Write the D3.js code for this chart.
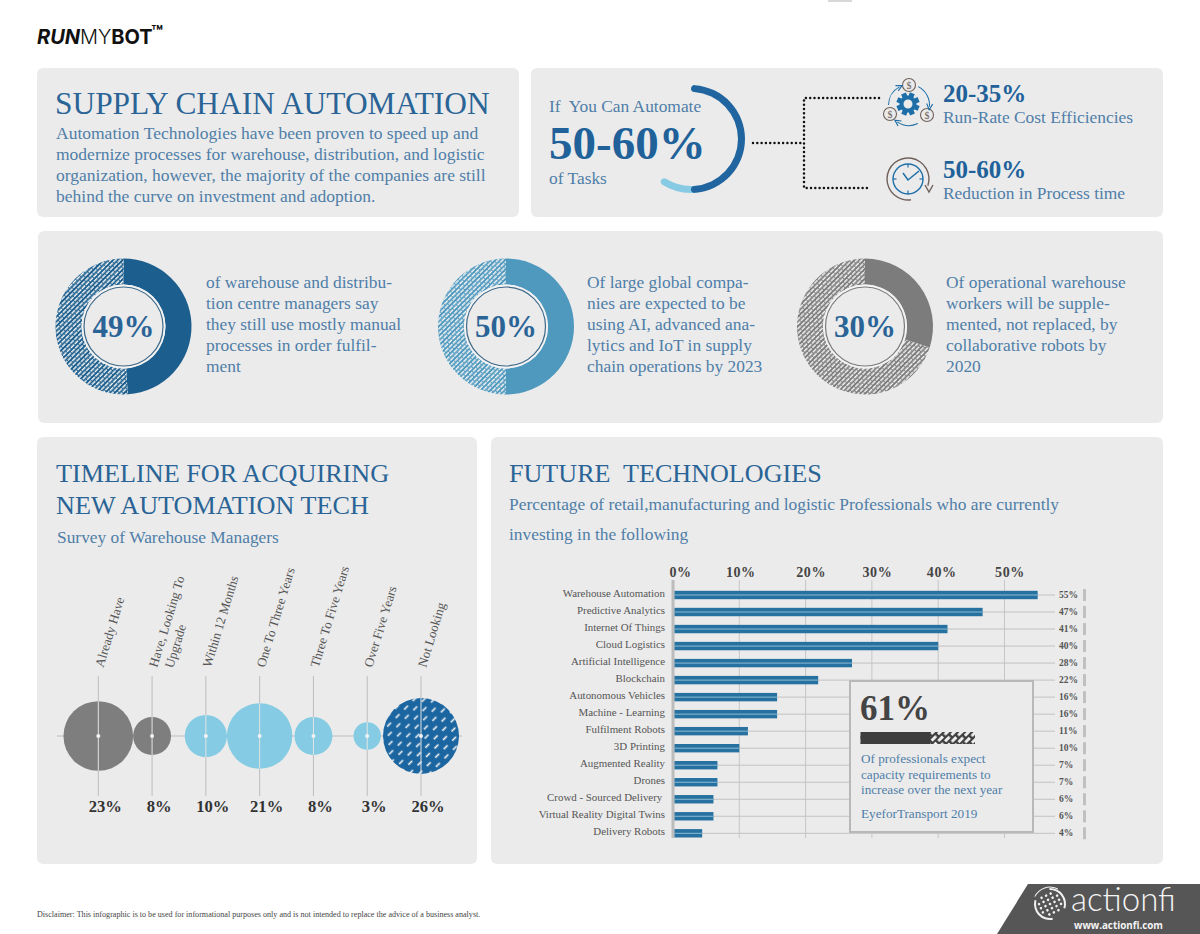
<!DOCTYPE html>
<html>
<head>
<meta charset="utf-8">
<script src="https://cdn.jsdelivr.net/npm/d3@7"></script>
<style>
body { margin: 0; background: #fff; }
text { font-family: "Liberation Serif", serif; white-space: pre; }
</style>
</head>
<body>
<svg id="chart" width="1200" height="934"></svg>
<script>
// data
const bubbleLabels = [['Already Have'], ['Have, Looking To', 'Upgrade'], ['Within 12 Months'], ['One To Three Years'], ['Three To Five Years'], ['Over Five Years'], ['Not Looking']];
const bubbleValues = [23, 8, 10, 21, 8, 3, 26];
const bubbleKinds = ['grey', 'grey', 'light', 'light', 'light', 'light', 'hatch'];

const techNames = ['Warehouse Automation', 'Predictive Analytics', 'Internet Of Things', 'Cloud Logistics', 'Artificial Intelligence', 'Blockchain', 'Autonomous Vehicles', 'Machine - Learning', 'Fulfilment Robots', '3D Printing', 'Augmented Reality', 'Drones', 'Crowd - Sourced Delivery ', 'Virtual Reality Digital Twins', 'Delivery Robots'];
const techBars = [55, 46.7, 41.4, 40, 27, 21.9, 15.7, 15.7, 11.3, 10, 6.7, 6.7, 6.1, 6.1, 4.4];
const techLabels = ['55%', '47%', '41%', '40%', '28%', '22%', '16%', '16%', '11%', '10%', '7%', '7%', '6%', '6%', '4%'];
const techTicks = [0, 10, 20, 30, 40, 50];

const donutValues = [49, 50, 30];
const donutColors = ['#1c5f8e', '#4f99bf', '#7c7c7c'];
const donutRings = ['#3f6a8a', '#3f6a8a', '#7c7c7c'];
const donutTexts = [
    ['of warehouse and distribu-', 'tion centre managers say', 'they still use mostly manual', 'processes in order fulfil-', 'ment'],
    ['Of large global compa-', 'nies are expected to be', 'using AI, advanced ana-', 'lytics and IoT in supply', 'chain operations by 2023'],
    ['Of operational warehouse', 'workers will be supple-', 'mented, not replaced, by', 'collaborative robots by', '2020']
];

const automateRange = [50, 60];
const capacityValue = 61;

const introLines = ['Automation Technologies have been proven to speed up and', 'modernize processes for warehouse, distribution, and logistic', 'organization, however, the majority of the companies are still', 'behind the curve on investment and adoption.'];
const calloutLines = ['Of professionals expect', 'capacity requirements to', 'increase over the next year'];

const BLUE = '#2a6496';
const SOFT = '#4f7ea8';
const ICON = '#1e6ea8';
const BROWN = '#6f625c';

const svg = d3.select('#chart');
const defs = svg.append('defs');

// diagonal dashes, every other row shifted half a step
function hatch(id, base, size, gap, dash, width) {
    const p = defs.append('pattern')
        .attr('id', id)
        .attr('patternUnits', 'userSpaceOnUse')
        .attr('width', size)
        .attr('height', gap * 2)
        .attr('patternTransform', 'rotate(-45)');
    p.append('rect').attr('width', size).attr('height', gap * 2).attr('fill', base);
    p.append('line')
        .attr('x1', 0).attr('x2', dash)
        .attr('y1', gap / 2).attr('y2', gap / 2)
        .attr('stroke', '#f4f4f4')
        .attr('stroke-width', width);
    [[size / 2, size / 2 + dash], [size / 2 - size, size / 2 - size + dash]].forEach(s => {
        p.append('line')
            .attr('x1', s[0]).attr('x2', s[1])
            .attr('y1', gap * 1.5).attr('y2', gap * 1.5)
            .attr('stroke', '#f4f4f4')
            .attr('stroke-width', width);
    });
}
hatch('hatch0', donutColors[0], 5.5, 3.4, 4.7, 1.5);
hatch('hatch1', donutColors[1], 5.5, 3.4, 4.7, 1.5);
hatch('hatch2', donutColors[2], 5.5, 3.4, 4.7, 1.5);
hatch('hatchBubble', '#1b65a1', 12, 7, 5.5, 1.6);
hatch('hatchBar', '#3e3e3e', 9, 5, 6.5, 2.8);

function put(x, y, str, size, color, weight) {
    return svg.append('text')
        .attr('x', x)
        .attr('y', y)
        .attr('font-size', size)
        .attr('fill', color)
        .attr('font-weight', weight || 'normal')
        .text(str);
}

function lines(x, y, step, arr, size, color) {
    arr.forEach((l, i) => put(x, y + i * step, l, size, color));
}

// top sliver at the very edge of the picture
svg.append('rect').attr('x', 828).attr('y', 0).attr('width', 24).attr('height', 2).attr('fill', '#d8d8d8');

// panels
const panels = [[37, 68, 482, 149], [531, 68, 632, 149], [38, 231, 1125, 192], [37, 437, 440, 427], [491, 437, 672, 427]];
svg.selectAll('rect.panel')
    .data(panels)
    .enter()
    .append('rect')
    .attr('class', 'panel')
    .attr('x', d => d[0])
    .attr('y', d => d[1])
    .attr('width', d => d[2])
    .attr('height', d => d[3])
    .attr('rx', 6)
    .attr('fill', '#ebebeb');

// logo
const logo = svg.append('text').attr('x', 37).attr('y', 44).attr('font-size', 20).attr('fill', '#111').style('font-family', 'Inter, sans-serif');
logo.append('tspan').attr('font-weight', 700).attr('font-style', 'italic').text('RUN');
logo.append('tspan').attr('font-weight', 300).text('MY');
logo.append('tspan').attr('font-weight', 700).text('BOT');
put(151, 39, '™', 19, '#111', 'bold').style('font-family', 'Inter, sans-serif');

// intro panel
put(55, 114, 'SUPPLY CHAIN AUTOMATION', 31.4, BLUE);
lines(56, 139, 21, introLines, 17.5, SOFT);

// automate panel
put(549, 112, 'If  You Can Automate', 17.4, SOFT);
put(549, 159, '50-60%', 47, '#20619a', 'bold');
put(549, 184, 'of Tasks', 17.4, SOFT);

const arcCentre = svg.append('g').attr('transform', 'translate(691,139)');
const pctAngle = d3.scaleLinear().domain([0, 100]).range([0, 2 * Math.PI]);
const ringArc = d3.arc().innerRadius(47).outerRadius(54).cornerRadius(3.5);
arcCentre.append('path')
    .attr('d', ringArc({ startAngle: pctAngle(automateRange[0] - 3), endAngle: pctAngle(automateRange[1]) }))
    .attr('fill', '#86cbe3');
arcCentre.append('path')
    .attr('d', ringArc({ startAngle: pctAngle(0), endAngle: pctAngle(automateRange[0]) }))
    .attr('fill', '#20659f');

const dots = d3.line();
[[[753, 143], [804, 143]], [[879, 98], [804, 98], [804, 188], [870, 188]]].forEach(pts => {
    svg.append('path')
        .attr('d', dots(pts))
        .attr('fill', 'none')
        .attr('stroke', '#111')
        .attr('stroke-width', 2.5)
        .attr('stroke-linecap', 'round')
        .attr('stroke-dasharray', '0 4.3');
});

// gear icon
const gear = svg.append('g').attr('transform', 'translate(908,104)');
d3.range(8).forEach(i => {
    gear.append('rect')
        .attr('x', -2.6).attr('y', -11.5).attr('width', 5.2).attr('height', 6)
        .attr('fill', ICON)
        .attr('transform', `rotate(${i * 45 + 22})`);
});
gear.append('circle').attr('r', 6.5).attr('fill', 'none').attr('stroke', ICON).attr('stroke-width', 4);

[[909, 85], [890, 114], [927, 115]].forEach(c => {
    svg.append('circle').attr('cx', c[0]).attr('cy', c[1]).attr('r', 6.5).attr('fill', '#ebebeb').attr('stroke', BROWN).attr('stroke-width', 1.1);
    put(c[0], c[1] + 3.5, '$', 10, BROWN).attr('text-anchor', 'middle');
});
// curved arrows around the gear, with a head at the clockwise end
const iconArc = d3.arc().innerRadius(20).outerRadius(21);
[[0.46, 1.66], [2.7, 3.75], [4.71, 5.8]].forEach(a => {
    const g = svg.append('g').attr('transform', 'translate(909,105)');
    g.append('path').attr('d', iconArc({ startAngle: a[0], endAngle: a[1] })).attr('fill', ICON);
    g.append('path')
        .attr('d', 'M-3,-23.5L3,-20.5L-3,-17.5')
        .attr('fill', 'none')
        .attr('stroke', ICON)
        .attr('stroke-width', 1.1)
        .attr('transform', `rotate(${a[1] * 180 / Math.PI})`);
});

// clock icon
const clock = svg.append('g').attr('transform', 'translate(908,179)');
clock.append('circle').attr('r', 15).attr('fill', 'none').attr('stroke', ICON).attr('stroke-width', 1.4);
clock.append('path').attr('d', d3.arc().innerRadius(20.3).outerRadius(21.7)({ startAngle: 3.0, endAngle: 2 * Math.PI + 1.9 })).attr('fill', BROWN);
clock.append('path').attr('d', 'M17,6L21,13L25,6').attr('fill', 'none').attr('stroke', BROWN).attr('stroke-width', 1.4);
clock.append('path').attr('d', 'M-5,-6L0,1L11,-8').attr('fill', 'none').attr('stroke', ICON).attr('stroke-width', 1.5);
d3.range(4).forEach(i => {
    clock.append('line').attr('y1', -15).attr('y2', -11.5).attr('stroke', ICON).attr('stroke-width', 1.2).attr('transform', `rotate(${i * 90})`);
});

put(943, 102, '20-35%', 25, '#20619a', 'bold');
put(943, 123, 'Run-Rate Cost Efficiencies', 17.4, SOFT);
put(943, 178, '50-60%', 25, '#20619a', 'bold');
put(943, 199, 'Reduction in Process time', 17.4, SOFT);

// donuts
const donutX = [123.5, 506, 865];
const donutTextX = [206, 587, 946];
donutValues.forEach((v, i) => {
    const g = svg.append('g').attr('transform', `translate(${donutX[i]},326.5)`);
    const slices = d3.pie().sort(null)([v, 100 - v]);
    const a = d3.arc().innerRadius(42).outerRadius(68);
    g.selectAll('path')
        .data(slices)
        .enter()
        .append('path')
        .attr('d', a)
        .attr('fill', (d, j) => j === 0 ? donutColors[i] : `url(#hatch${i})`);
    g.append('circle').attr('r', 42).attr('fill', '#f3f3f3');
    g.append('circle').attr('r', 39.5).attr('fill', '#ebebeb').attr('stroke', donutRings[i]).attr('stroke-width', 1.2);
    g.append('text')
        .attr('y', 10)
        .attr('text-anchor', 'middle')
        .attr('font-size', 31)
        .attr('font-weight', 'bold')
        .attr('fill', BLUE)
        .text(v + '%');
    lines(donutTextX[i], 288, 21, donutTexts[i], 17.4, SOFT);
});

// timeline panel
put(56, 482, 'TIMELINE FOR ACQUIRING', 26.2, BLUE);
put(56, 514, 'NEW AUTOMATION TECH', 26.2, BLUE);
put(57, 543, 'Survey of Warehouse Managers', 17.4, SOFT);

const bubbleX = d3.scalePoint().domain(d3.range(bubbleValues.length)).range([98.3, 421]);
const bubbleR = d3.scaleLinear().domain([3, 26]).range([13.7, 38]);
const bubbleFill = { grey: '#7e7e7e', light: '#84cbe3', hatch: 'url(#hatchBubble)' };
const bubbleY = 736;

svg.append('line').attr('x1', 57).attr('x2', 462).attr('y1', bubbleY).attr('y2', bubbleY).attr('stroke', '#bdbdbd').attr('stroke-width', 1);
svg.selectAll('line.stem')
    .data(bubbleValues)
    .enter()
    .append('line')
    .attr('class', 'stem')
    .attr('x1', (d, i) => bubbleX(i))
    .attr('x2', (d, i) => bubbleX(i))
    .attr('y1', 676)
    .attr('y2', 796)
    .attr('stroke', '#bdbdbd')
    .attr('stroke-width', 1);
svg.selectAll('circle.bubble')
    .data(bubbleValues)
    .enter()
    .append('circle')
    .attr('class', 'bubble')
    .attr('cx', (d, i) => bubbleX(i))
    .attr('cy', bubbleY)
    .attr('r', d => bubbleR(d))
    .attr('fill', (d, i) => bubbleFill[bubbleKinds[i]]);
svg.selectAll('line.chord')
    .data(bubbleValues)
    .enter()
    .append('line')
    .attr('class', 'chord')
    .attr('x1', (d, i) => bubbleX(i))
    .attr('x2', (d, i) => bubbleX(i))
    .attr('y1', d => bubbleY - bubbleR(d))
    .attr('y2', d => bubbleY + bubbleR(d))
    .attr('stroke', '#e4e4e4')
    .attr('stroke-width', 1);
svg.selectAll('circle.pin')
    .data(bubbleValues)
    .enter()
    .append('circle')
    .attr('class', 'pin')
    .attr('cx', (d, i) => bubbleX(i))
    .attr('cy', bubbleY)
    .attr('r', 2)
    .attr('fill', '#f2f2f2');
svg.selectAll('text.pct')
    .data(bubbleValues)
    .enter()
    .append('text')
    .attr('class', 'pct')
    .attr('x', (d, i) => bubbleX(i) + 7)
    .attr('y', 812)
    .attr('text-anchor', 'middle')
    .attr('font-size', 16.6)
    .attr('font-weight', 'bold')
    .attr('fill', '#333')
    .text(d => d + '%');
bubbleLabels.forEach((label, i) => {
    const t = svg.append('text')
        .attr('transform', `translate(${bubbleX(i) + 5},668) rotate(-73)`)
        .attr('font-size', 13)
        .attr('fill', '#555');
    label.forEach((l, j) => {
        t.append('tspan').attr('x', j * 4).attr('y', j * 15.5).text(l);
    });
});

// future technologies panel
put(509, 482, 'FUTURE  TECHNOLOGIES', 26.1, BLUE);
put(509, 510, 'Percentage of retail,manufacturing and logistic Professionals who are currently', 17.4, SOFT);
put(509, 540, 'investing in the following', 17.4, SOFT);

const xTech = d3.scaleLinear().domain([0, 50]).range([673, 1004.5]);
const yTech = d3.scalePoint().domain(techNames).range([595, 833.3]);
const barH = 8.4;

svg.selectAll('line.vgrid')
    .data(techTicks)
    .enter()
    .append('line')
    .attr('class', 'vgrid')
    .attr('x1', d => xTech(d))
    .attr('x2', d => xTech(d))
    .attr('y1', 580)
    .attr('y2', 838)
    .attr('stroke', d => d === 0 ? '#bcbcbc' : '#c6c6c6')
    .attr('stroke-width', d => d === 0 ? 3 : 1);
svg.selectAll('line.hgrid')
    .data(techNames)
    .enter()
    .append('line')
    .attr('class', 'hgrid')
    .attr('x1', xTech(0))
    .attr('x2', 1055)
    .attr('y1', d => yTech(d))
    .attr('y2', d => yTech(d))
    .attr('stroke', '#c2c2c2')
    .attr('stroke-width', 1);
svg.selectAll('rect.bar')
    .data(techBars)
    .enter()
    .append('rect')
    .attr('class', 'bar')
    .attr('x', xTech(0) + 1.5)
    .attr('y', (d, i) => yTech(techNames[i]) - barH / 2)
    .attr('width', d => xTech(d) - xTech(0) - 1.5)
    .attr('height', barH)
    .attr('fill', '#26719f');
svg.selectAll('line.barmid')
    .data(techBars)
    .enter()
    .append('line')
    .attr('class', 'barmid')
    .attr('x1', xTech(0) + 1.5)
    .attr('x2', d => xTech(d))
    .attr('y1', (d, i) => yTech(techNames[i]))
    .attr('y2', (d, i) => yTech(techNames[i]))
    .attr('stroke', '#8dbcd6')
    .attr('stroke-width', 1);

const topAxis = d3.axisTop(xTech).tickValues(techTicks).tickFormat(d => d + '%').tickSize(0).tickPadding(0);
const tickShift = [7, 1, 5, 5, 3, 5];
const axisTop = svg.append('g').attr('transform', 'translate(0,577)').call(topAxis);
axisTop.select('.domain').remove();
axisTop.selectAll('text')
    .attr('dx', (d, i) => tickShift[i])
    .style('font-family', '"Liberation Serif", serif')
    .attr('font-size', 14)
    .attr('font-weight', 'bold')
    .attr('letter-spacing', 0.6)
    .attr('fill', '#444');

const leftAxis = d3.axisLeft(yTech).tickSize(0).tickPadding(0);
const axisLeft = svg.append('g').attr('transform', 'translate(665,0)').call(leftAxis);
axisLeft.select('.domain').remove();
axisLeft.selectAll('text')
    .attr('dy', '0.1em')
    .style('font-family', '"Liberation Serif", serif')
    .attr('font-size', 10.9)
    .attr('fill', '#555');

svg.selectAll('text.techval')
    .data(techLabels)
    .enter()
    .append('text')
    .attr('class', 'techval')
    .attr('x', 1059)
    .attr('y', (d, i) => yTech(techNames[i]) + 2.5)
    .attr('font-size', 9.5)
    .attr('font-weight', 'bold')
    .attr('fill', '#555')
    .text(d => d);
svg.selectAll('rect.techend')
    .data(techLabels)
    .enter()
    .append('rect')
    .attr('class', 'techend')
    .attr('x', 1083)
    .attr('y', (d, i) => yTech(techNames[i]) - 6)
    .attr('width', 3)
    .attr('height', 12)
    .attr('fill', '#c0c0c0');

// callout
svg.append('rect').attr('x', 850).attr('y', 681).attr('width', 183).attr('height', 151).attr('fill', '#ebebeb').attr('stroke', '#b8b8b8').attr('stroke-width', 2);
put(860, 720, capacityValue + '%', 35, '#444', 'bold');
const capScale = d3.scaleLinear().domain([0, 100]).range([860.5, 975]);
svg.append('rect').attr('x', capScale(0)).attr('y', 732).attr('width', capScale(100) - capScale(0)).attr('height', 12).attr('fill', 'url(#hatchBar)');
svg.append('rect').attr('x', capScale(0)).attr('y', 732).attr('width', capScale(capacityValue) - capScale(0)).attr('height', 12).attr('fill', '#3e3e3e');
lines(861, 763, 15.7, calloutLines, 13.2, SOFT);
put(861, 818, 'EyeforTransport 2019', 13.2, SOFT);

// footer
put(37, 917, 'Disclaimer: This infographic is to be used for informational purposes only and is not intended to replace the advice of a business analyst.', 8.1, '#444');
svg.append('path').attr('d', 'M1028,884L1200,884L1200,934L997,934Z').attr('fill', '#565656');
const globe = svg.append('g').attr('transform', 'translate(1050,904) rotate(-25)');
d3.range(-2, 3).forEach(a => {
    d3.range(-2, 3).forEach(b => {
        if (a * a + b * b > 6) return;
        globe.append('circle').attr('cx', a * 5).attr('cy', b * 4.6).attr('r', 1.3).attr('fill', '#f2f2f2');
    });
});
const swoosh = d3.arc();
[[14, 16, 0.4, 2.3], [14, 16, 3.4, 5.4], [16.4, 17.4, 5.6, 7.2]].forEach(s => {
    globe.append('path')
        .attr('d', swoosh({ innerRadius: s[0], outerRadius: s[1], startAngle: s[2], endAngle: s[3] }))
        .attr('fill', '#f2f2f2');
});
put(1071, 911, 'actionfi', 33, '#f4f4f4').style('font-family', 'Lato, sans-serif').attr('font-weight', 300);
put(1074, 929, 'www.actionfi.com', 9.8, '#f4f4f4', 'bold').style('font-family', '"Open Sans", sans-serif');
</script>
</body>
</html>
